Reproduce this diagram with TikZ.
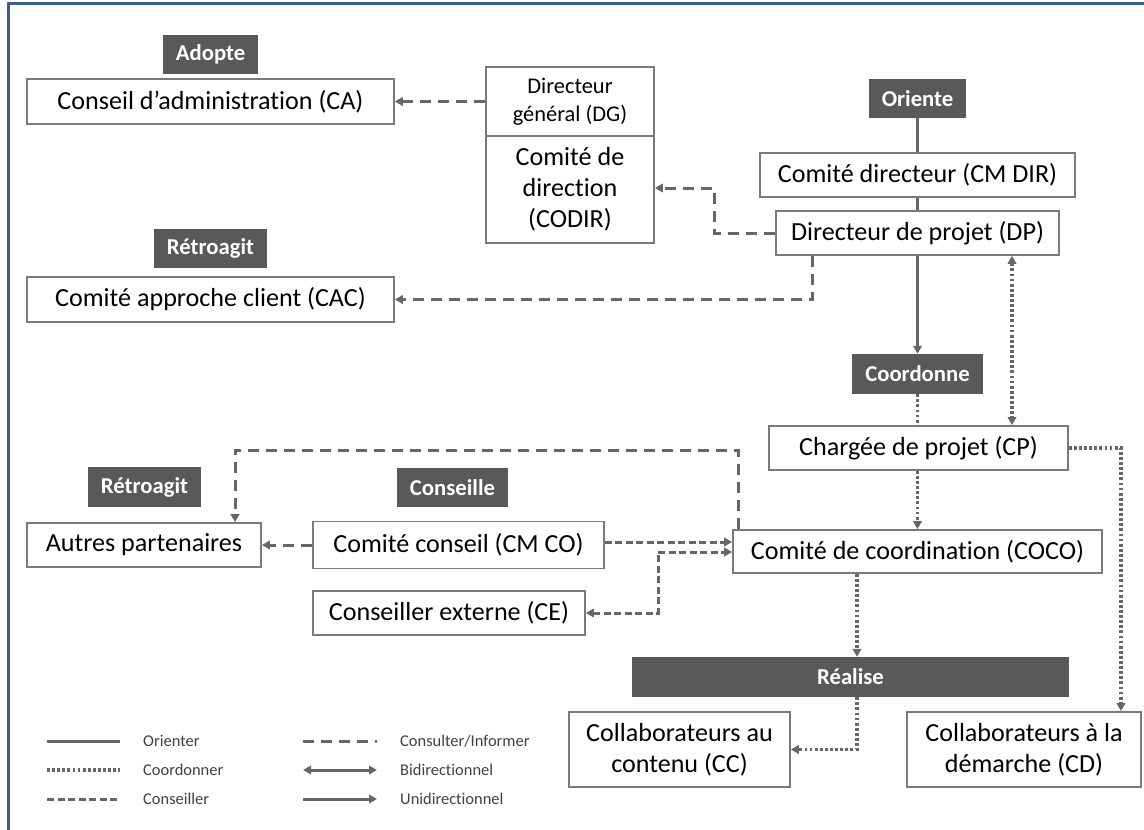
\documentclass[tikz,border=0pt]{standalone}
\usepackage{fontspec}
\setmainfont{Carlito}[Ligatures=NoCommon]
\usetikzlibrary{arrows.meta}
\definecolor{boxline}{HTML}{7A7A7A}
\definecolor{labfill}{HTML}{595959}
\definecolor{conn}{HTML}{666666}
\definecolor{framecol}{HTML}{3B5E8C}
\definecolor{legtext}{HTML}{404040}
\begin{document}
\begin{tikzpicture}[x=1bp,y=-1bp,
  box/.style={draw=boxline, line width=1.7bp, fill=white, inner sep=0pt, align=center, text=black,
    font=\fontsize{26.2}{31}\selectfont},
  smallbox/.style={box, font=\fontsize{22.5}{28}\selectfont},
  lab/.style={fill=labfill, text=white, inner sep=0pt, font=\fontsize{22.8}{27}\selectfont\bfseries},
  legtxt/.style={anchor=west, inner sep=0pt, text=legtext, font=\fontsize{16.5}{20}\selectfont},
  orient/.style={draw=conn, line width=3bp},
  consult/.style={draw=conn, line width=3bp, dash pattern=on 11bp off 7bp},
  conseil/.style={draw=conn, line width=3bp, dash pattern=on 7bp off 3.5bp},
  coord/.style={draw=conn, line width=3.2bp, dash pattern=on 2.8bp off 2.3bp},
  tip/.style={-{Triangle[length=8bp,width=8.5bp]}},
  bitip/.style={{Triangle[length=8bp,width=8.5bp]}-{Triangle[length=8bp,width=8.5bp]}}
]
\useasboundingbox (0,0) rectangle (1144,830);
% frame
\draw[framecol, line width=3bp] (8.5,845) -- (8.5,3.5) -- (1160,3.5);

% top-left
\node[lab, minimum width=95bp, minimum height=39bp] (adopte) at (210.5,54.5) {Adopte};
\node[box, minimum width=367bp, minimum height=45bp] (ca) at (210.5,101.5) {Conseil d’administration (CA)};
\node[smallbox, minimum width=168bp, minimum height=69bp] (dg) at (570,101.5) {Directeur\\général (DG)};
\node[box, minimum width=168bp, minimum height=107bp] (codir) at (570,189.5) {Comité de\\direction\\(CODIR)};
\node[lab, minimum width=113bp, minimum height=39bp] (retro1) at (210.5,248.5) {Rétroagit};
\node[box, minimum width=367bp, minimum height=45bp] (cac) at (210.5,299.5) {Comité approche client (CAC)};

% right column
\node[lab, minimum width=97bp, minimum height=39bp] (oriente) at (917.5,98.5) {Oriente};
\node[box, minimum width=315bp, minimum height=44bp] (cmdir) at (917.5,175) {Comité directeur (CM DIR)};
\node[box, minimum width=283bp, minimum height=44bp] (dp) at (917.5,233) {Directeur de projet (DP)};
\node[lab, minimum width=131bp, minimum height=40bp] (coordonne) at (917.5,374) {Coordonne};
\node[box, minimum width=299bp, minimum height=44bp] (cp) at (918.5,448) {Chargée de projet (CP)};
\node[box, minimum width=369bp, minimum height=43bp] (coco) at (917.5,551.5) {Comité de coordination (COCO)};

% middle left
\node[lab, minimum width=113bp, minimum height=40bp] (retro2) at (144.5,487) {Rétroagit};
\node[box, minimum width=234bp, minimum height=44bp] (autres) at (144,545) {Autres partenaires};
\node[lab, minimum width=111bp, minimum height=39bp] (conseille) at (452.5,487.5) {Conseille};
\node[box, minimum width=291bp, minimum height=47bp] (cmco) at (458.5,545) {Comité conseil (CM CO)};
\node[box, minimum width=272bp, minimum height=44bp] (ce) at (449,613) {Conseiller externe (CE)};

% bottom
\node[lab, minimum width=437bp, minimum height=40bp] (realise) at (850.5,677) {Réalise};
\node[box, minimum width=221bp, minimum height=75bp] (cc) at (679.5,749.5) {Collaborateurs au\\contenu (CC)};
\node[box, minimum width=234bp, minimum height=75bp] (cd) at (1024,749.5) {Collaborateurs à la\\démarche (CD)};

% helper coordinates
\coordinate (xdpcp) at (1012,0);
\coordinate (b9) at (714,188);
\coordinate (x10) at (812,0);
\coordinate (c11a) at (738,450);
\coordinate (c11b) at (235,450);
\coordinate (y13) at (0,542);
\coordinate (c14) at (658,552);
\coordinate (x5) at (857,0);
\coordinate (x7) at (1121,0);

% solid (orienter)
\draw[orient] (oriente.south) -- (cmdir.north);
\draw[orient] (cmdir.south) -- (dp.north);
\draw[orient,tip] (dp.south) -- (coordonne.north);

% dotted (coordonner)
\draw[coord] (coordonne.south) -- (coordonne.south |- cp.north);
\draw[coord,bitip] (dp.south -| xdpcp) -- (cp.north -| xdpcp);
\draw[coord,tip] (coordonne.south |- cp.south) -- (coordonne.south |- coco.north);
\draw[coord,tip] (coco.south -| x5) -- (realise.north -| x5);
\draw[coord,tip] (realise.south -| x5) |- (cc.east);
\draw[coord,tip] (cp.east) -| (cd.north -| x7);

% dashed (consulter / informer)
\draw[consult,tip] (dg.west) -- (ca.east);
\draw[consult,tip] (dp.west) -| (b9) -- (b9 -| codir.east);
\draw[consult,tip] (dp.south -| x10) |- (cac.east);
\draw[consult,tip] (coco.north -| c11a) -- (c11a) -- (c11b) -- (autres.north -| c11b);
\draw[consult,tip] (cmco.west) -- (autres.east);

% short dashes (conseiller)
\draw[conseil,tip] (cmco.east |- y13) -- (coco.west |- y13);
\draw[conseil,bitip] (ce.east) -| (c14) -- (c14 -| coco.west);

% legend
\coordinate (l1a) at (47,741); \coordinate (l1b) at (120,741);
\coordinate (l2a) at (47,770); \coordinate (l2b) at (120,770);
\coordinate (l3a) at (47,799); \coordinate (l3b) at (120,799);
\coordinate (r1a) at (303,741); \coordinate (r1b) at (377,741);
\coordinate (r2a) at (303,770); \coordinate (r2b) at (377,770);
\coordinate (r3a) at (303,799); \coordinate (r3b) at (377,799);
\draw[orient] (l1a) -- (l1b);
\draw[coord] (l2a) -- (l2b);
\draw[conseil] (l3a) -- (l3b);
\draw[consult] (r1a) -- (r1b);
\draw[orient,bitip] (r2a) -- (r2b);
\draw[orient,tip] (r3a) -- (r3b);
\node[legtxt] (t1) at (143,741) {Orienter};
\node[legtxt] (t2) at (143,770) {Coordonner};
\node[legtxt] (t3) at (143,799) {Conseiller};
\node[legtxt] (t4) at (400,741) {Consulter/Informer};
\node[legtxt] (t5) at (400,770) {Bidirectionnel};
\node[legtxt] (t6) at (400,799) {Unidirectionnel};
\end{tikzpicture}
\end{document}
